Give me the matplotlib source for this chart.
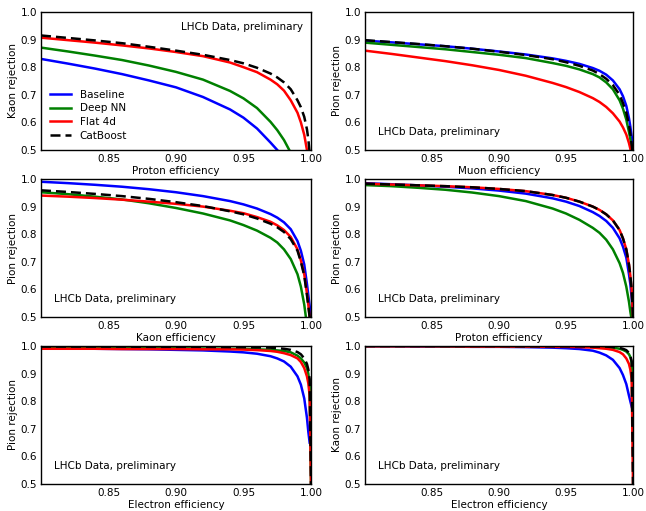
import numpy as np
import matplotlib
matplotlib.use("Agg")
import matplotlib.pyplot as plt

labels = ["Baseline", "Deep NN", "Flat 4d", "CatBoost"]
colors = ["#0000ff", "#008000", "#ff0000", "#000000"]
styles = ["-", "-", "-", "--"]

eff_grid = [0.80, 0.82, 0.84, 0.86, 0.88, 0.90, 0.92, 0.94, 0.95, 0.96, 0.97,
            0.975, 0.98, 0.985, 0.99, 0.9925, 0.995, 0.997, 0.998, 0.999, 1.0]

# Panel 1: Proton efficiency vs Kaon rejection
p1_baseline = [0.830, 0.813, 0.795, 0.775, 0.752, 0.727, 0.692, 0.647, 0.617, 0.578, 0.527,
               0.50, 0.47, 0.44, 0.41, 0.39, 0.37, 0.35, 0.34, 0.33, 0.32]
p1_deepnn   = [0.871, 0.857, 0.842, 0.826, 0.806, 0.783, 0.755, 0.714, 0.687, 0.652, 0.602,
               0.572, 0.536, 0.49, 0.44, 0.41, 0.38, 0.36, 0.35, 0.34, 0.33]
p1_flat4d   = [0.907, 0.898, 0.889, 0.879, 0.868, 0.855, 0.84, 0.817, 0.80, 0.782, 0.755,
               0.738, 0.715, 0.68, 0.635, 0.60, 0.555, 0.50, 0.46, 0.43, 0.40]
p1_catboost = [0.915, 0.906, 0.897, 0.887, 0.874, 0.86, 0.845, 0.826, 0.814, 0.798, 0.777,
               0.763, 0.745, 0.72, 0.68, 0.655, 0.62, 0.575, 0.54, 0.49, 0.40]

# Panel 2: Muon efficiency vs Pion rejection
p2_baseline = [0.896, 0.89, 0.883, 0.876, 0.867, 0.857, 0.846, 0.832, 0.823, 0.812, 0.797,
               0.787, 0.773, 0.752, 0.72, 0.695, 0.66, 0.615, 0.585, 0.55, 0.50]
p2_deepnn   = [0.889, 0.881, 0.873, 0.865, 0.855, 0.845, 0.833, 0.815, 0.805, 0.792, 0.775,
               0.763, 0.745, 0.72, 0.68, 0.65, 0.61, 0.565, 0.54, 0.51, 0.47]
p2_flat4d   = [0.86, 0.848, 0.835, 0.822, 0.807, 0.79, 0.769, 0.743, 0.728, 0.71, 0.688,
               0.674, 0.656, 0.633, 0.603, 0.582, 0.556, 0.525, 0.505, 0.48, 0.45]
p2_catboost = [0.898, 0.891, 0.884, 0.876, 0.867, 0.856, 0.844, 0.829, 0.818, 0.805, 0.788,
               0.775, 0.758, 0.735, 0.70, 0.67, 0.635, 0.59, 0.56, 0.52, 0.47]

# Panel 3: Kaon efficiency vs Pion rejection
p3_baseline = [0.99, 0.985, 0.979, 0.972, 0.963, 0.952, 0.938, 0.92, 0.908, 0.893, 0.873,
               0.86, 0.843, 0.818, 0.775, 0.74, 0.69, 0.62, 0.58, 0.54, 0.50]
p3_deepnn   = [0.952, 0.945, 0.936, 0.926, 0.912, 0.895, 0.875, 0.85, 0.833, 0.813, 0.787,
               0.77, 0.745, 0.71, 0.655, 0.61, 0.545, 0.47, 0.43, 0.40, 0.38]
p3_flat4d   = [0.94, 0.936, 0.931, 0.925, 0.918, 0.91, 0.90, 0.885, 0.876, 0.862, 0.845,
               0.832, 0.815, 0.79, 0.745, 0.705, 0.655, 0.585, 0.545, 0.50, 0.45]
p3_catboost = [0.959, 0.953, 0.946, 0.938, 0.928, 0.916, 0.902, 0.883, 0.872, 0.857, 0.838,
               0.825, 0.808, 0.782, 0.74, 0.70, 0.65, 0.58, 0.54, 0.50, 0.45]

# Panel 4: Proton efficiency vs Pion rejection
p4_baseline = [0.985, 0.981, 0.977, 0.972, 0.966, 0.958, 0.947, 0.93, 0.918, 0.902, 0.88,
               0.866, 0.848, 0.823, 0.785, 0.755, 0.715, 0.655, 0.62, 0.57, 0.50]
p4_deepnn   = [0.978, 0.974, 0.968, 0.961, 0.951, 0.938, 0.92, 0.893, 0.875, 0.852, 0.823,
               0.805, 0.78, 0.745, 0.695, 0.66, 0.61, 0.555, 0.52, 0.49, 0.45]
p4_flat4d   = [0.983, 0.98, 0.977, 0.974, 0.97, 0.964, 0.956, 0.942, 0.932, 0.918, 0.90,
               0.888, 0.872, 0.85, 0.815, 0.785, 0.745, 0.69, 0.65, 0.60, 0.50]
p4_catboost = [0.983, 0.98, 0.977, 0.974, 0.97, 0.964, 0.956, 0.942, 0.932, 0.918, 0.90,
               0.888, 0.872, 0.85, 0.815, 0.785, 0.745, 0.69, 0.65, 0.60, 0.50]

# Panel 5: Electron efficiency vs Pion rejection
p5_baseline = [0.992, 0.991, 0.99, 0.989, 0.988, 0.986, 0.984, 0.98, 0.977, 0.972, 0.963,
               0.955, 0.944, 0.925, 0.89, 0.86, 0.81, 0.74, 0.69, 0.65, np.nan]
p5_deepnn   = [0.994, 0.994, 0.993, 0.993, 0.992, 0.992, 0.991, 0.99, 0.99, 0.988, 0.986,
               0.984, 0.982, 0.977, 0.965, 0.955, 0.94, 0.92, 0.90, 0.86, 0.50]
p5_flat4d   = [0.99, 0.99, 0.99, 0.989, 0.989, 0.989, 0.988, 0.988, 0.987, 0.985, 0.982,
               0.979, 0.974, 0.967, 0.955, 0.942, 0.92, 0.89, 0.865, 0.82, 0.50]
p5_catboost = [0.998, 0.998, 0.998, 0.998, 0.997, 0.997, 0.997, 0.996, 0.996, 0.995, 0.994,
               0.992, 0.99, 0.986, 0.978, 0.97, 0.955, 0.935, 0.915, 0.88, 0.50]

# Panel 6: Electron efficiency vs Kaon rejection
p6_baseline = [0.999, 0.999, 0.998, 0.998, 0.997, 0.997, 0.996, 0.994, 0.992, 0.989, 0.983,
               0.976, 0.966, 0.95, 0.92, 0.895, 0.862, 0.82, 0.80, 0.78, 0.765]
p6_deepnn   = [1.0, 1.0, 1.0, 0.999, 0.999, 0.999, 0.999, 0.998, 0.998, 0.998, 0.997,
               0.997, 0.996, 0.994, 0.99, 0.986, 0.98, 0.97, 0.96, 0.94, 0.75]
p6_flat4d   = [0.999, 0.999, 0.999, 0.999, 0.998, 0.998, 0.998, 0.997, 0.997, 0.996, 0.994,
               0.992, 0.99, 0.986, 0.978, 0.97, 0.955, 0.935, 0.915, 0.88, 0.50]
p6_catboost = [1.0, 1.0, 1.0, 1.0, 1.0, 1.0, 0.999, 0.999, 0.999, 0.999, 0.998,
               0.998, 0.998, 0.996, 0.993, 0.99, 0.985, 0.975, 0.965, 0.945, 0.50]

panels = [
    ("Proton efficiency", "Kaon rejection", [p1_baseline, p1_deepnn, p1_flat4d, p1_catboost]),
    ("Muon efficiency", "Pion rejection", [p2_baseline, p2_deepnn, p2_flat4d, p2_catboost]),
    ("Kaon efficiency", "Pion rejection", [p3_baseline, p3_deepnn, p3_flat4d, p3_catboost]),
    ("Proton efficiency", "Pion rejection", [p4_baseline, p4_deepnn, p4_flat4d, p4_catboost]),
    ("Electron efficiency", "Pion rejection", [p5_baseline, p5_deepnn, p5_flat4d, p5_catboost]),
    ("Electron efficiency", "Kaon rejection", [p6_baseline, p6_deepnn, p6_flat4d, p6_catboost]),
]

xticks = [0.85, 0.90, 0.95, 1.00]
yticks = [0.5, 0.6, 0.7, 0.8, 0.9, 1.0]

W, H = 646, 511
fig = plt.figure(figsize=(W / 100, H / 100), dpi=100)

lefts = [41, 365]
widths = [270, 268]
tops = [12, 179, 346]
height = 138

fs = 7.5
for i, (xl, yl, series) in enumerate(panels):
    r, c = divmod(i, 2)
    ax = fig.add_axes([lefts[c] / W, 1 - (tops[r] + height) / H, widths[c] / W, height / H])
    for y, lab, col, ls in zip(series, labels, colors, styles):
        kw = dict(dashes=(4, 2)) if ls == "--" else {}
        ax.plot(eff_grid, y, color=col, ls=ls, lw=1.8, label=lab,
                solid_joinstyle="round", **kw)
    ax.set_xlim(0.80, 1.0)
    ax.set_ylim(0.5, 1.0)
    ax.set_xticks(xticks)
    ax.set_xticklabels([f"{t:.2f}" for t in xticks])
    ax.set_yticks(yticks)
    ax.set_yticklabels([f"{t:.1f}" for t in yticks])
    ax.tick_params(length=0, labelsize=fs, pad=3)
    ax.set_xlabel(xl, fontsize=fs, labelpad=1)
    ax.set_ylabel(yl, fontsize=fs, labelpad=2)
    for s in ax.spines.values():
        s.set_linewidth(1.0)
    if i == 0:
        ax.text(0.97, 0.93, "LHCb Data, preliminary", transform=ax.transAxes,
                ha="right", va="top", fontsize=fs)
        ax.legend(loc="lower left", frameon=False, fontsize=fs,
                  bbox_to_anchor=(0.0, 0.0), handlelength=2.0, labelspacing=0.35)
    else:
        ax.text(0.05, 0.13, "LHCb Data, preliminary", transform=ax.transAxes,
                ha="left", va="center", fontsize=fs)

fig.savefig("out.png", dpi=100)
